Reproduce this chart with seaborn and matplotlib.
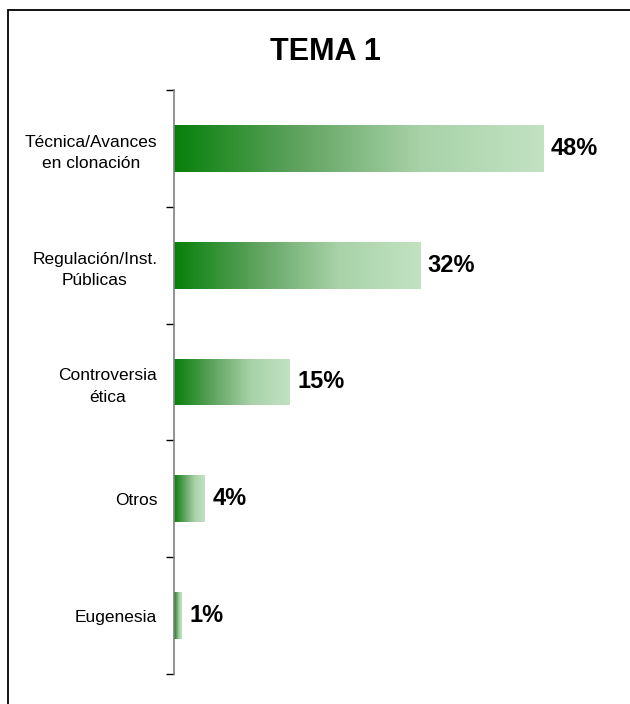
import numpy as np
import pandas as pd
import matplotlib
matplotlib.use("Agg")
import matplotlib.pyplot as plt
import seaborn as sns
from matplotlib.colors import LinearSegmentedColormap
from matplotlib.patches import Rectangle

categories = ["Técnica/Avances\nen clonación", "Regulación/Inst.\nPúblicas",
              "Controversia\nética", "Otros", "Eugenesia"]
values = [48, 32, 15, 4, 1]
labels = ["48%", "32%", "15%", "4%", "1%"]
title = "TEMA 1"

df = pd.DataFrame({"tema": categories, "pct": values})

sns.set_style("white")
plt.rcParams["font.family"] = ["Liberation Sans", "DejaVu Sans"]
plt.rcParams["text.color"] = "black"
plt.rcParams["ytick.labelcolor"] = "black"

fig = plt.figure(figsize=(6.3, 7.04), dpi=100)
ax = fig.add_axes([174 / 630, 1 - 674 / 704, (620 - 174) / 630, (674 - 90) / 704])

sns.barplot(data=df, x="pct", y="tema", orient="h", color="#2e8b2e",
            width=0.4, ax=ax)

# gradient fill, dark green -> pale green, along each bar
cmap = LinearSegmentedColormap.from_list("g", ["#07800a", "#5fa35f", "#a8d2a8", "#c2e2c2"])
grad = np.linspace(0, 1, 256).reshape(1, -1)
for bar in ax.patches:
    x0, y0 = bar.get_x(), bar.get_y()
    w, h = bar.get_width(), bar.get_height()
    bar.set_facecolor("none")
    bar.set_edgecolor("none")
    im = ax.imshow(grad, cmap=cmap, aspect="auto",
                   extent=[x0, x0 + w, y0 + h, y0], zorder=2)
    im.set_clip_path(bar)

for i, (v, lab) in enumerate(zip(values, labels)):
    ax.text(v + 1.0, i, lab, va="center", ha="left",
            fontsize=17, fontweight="bold", color="black")

ax.set_xlim(0, (620 - 174) / 7.69)
ax.set_ylim(4.5, -0.5)

# ticks between categories, labels centred on bars
ax.set_yticks(np.arange(-0.5, 5, 1.0))
ax.set_yticklabels([])
ax.set_yticks(range(len(categories)), minor=True)
ax.set_yticklabels(categories, minor=True, fontsize=12.5, ha="right",
                   multialignment="center", linespacing=1.5)
ax.tick_params(axis="y", which="major", direction="out", length=6,
               width=1, color="black", left=True)
ax.tick_params(axis="y", which="minor", length=0, pad=12)
ax.set_xticks([])
ax.set_xlabel("")
ax.set_ylabel("")

for s in ["top", "right", "bottom"]:
    ax.spines[s].set_visible(False)
ax.spines["left"].set_color("#808080")
ax.spines["left"].set_linewidth(1.2)

fig.text(325 / 630, 1 - 52 / 704, title, ha="center", va="center",
         fontsize=22, fontweight="bold", color="black")

fig.patches.append(Rectangle((8 / 630, -0.05), 1.1, 1.05 - 10 / 704,
                             transform=fig.transFigure, fill=False,
                             edgecolor="black", linewidth=1.3))

fig.savefig("out.png", dpi=100)
